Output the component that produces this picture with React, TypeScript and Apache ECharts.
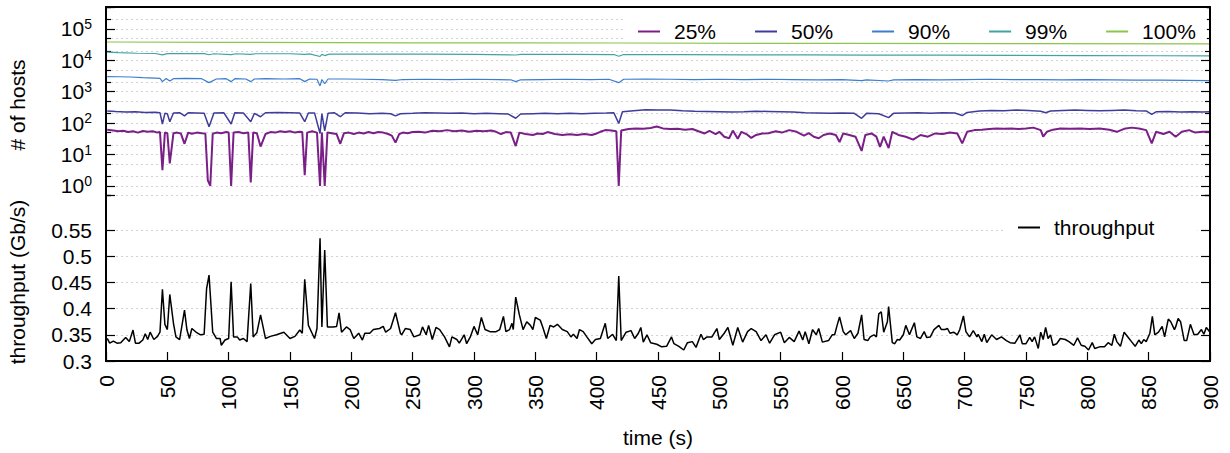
import React, { useEffect, useRef } from "react";
import * as echarts from "echarts";

const FONT = "Liberation Sans, Arial, Helvetica, sans-serif";

const seriesNames = ["25%", "50%", "90%", "99%", "100%"];
const seriesColors = ["#7a1f87", "#3f3c9c", "#3b7dcf", "#41a3a3", "#8ac64a"];
const seriesWidths = [2, 1.5, 1.2, 1.2, 1.2];

const p25: [number, number][] = [
  [1, 62], [6, 58], [10, 55], [14, 57], [18, 52], [22, 55], [26, 50], [30, 56], [34, 53], [38, 55], [42, 50], [44, 52],
  [46, 3.2], [48, 50], [50, 48], [52, 5.2], [55, 48], [58, 50], [61, 47], [64, 22], [67, 50], [70, 46], [74, 50], [78, 48],
  [81, 47], [83, 1.5], [85, 1.0], [87, 46], [90, 50], [94, 48], [98, 52], [100, 50], [102, 1.0], [104, 50], [108, 52],
  [112, 48], [116, 50], [118, 1.3], [120, 50], [123, 48], [126, 18], [130, 45], [134, 52], [138, 50], [142, 55], [146, 52],
  [150, 55], [154, 50], [158, 53], [160, 52], [162, 2.2], [164, 50], [168, 55], [172, 50], [174.5, 1.0], [176, 50],
  [178.3, 1.0], [180.5, 50], [184, 48], [188, 45], [191, 22], [194, 48], [198, 50], [202, 45], [206, 50], [210, 47],
  [214, 52], [218, 48], [222, 52], [226, 50], [230, 45], [233, 40], [236, 24], [239, 45], [242, 50], [246, 48], [250, 52],
  [255, 53], [260, 50], [266, 57], [272, 55], [278, 60], [284, 55], [290, 58], [296, 53], [302, 57], [308, 55], [314, 58],
  [318, 53], [322, 45], [326, 52], [330, 50], [334, 18.6], [337, 50], [342, 45], [348, 42], [352, 47], [356, 45],
  [360, 52], [366, 45], [372, 42], [378, 44], [384, 42], [390, 45], [396, 42], [400, 47], [403, 53], [407, 60], [412, 58],
  [416, 55], [418, 1.0], [420, 58], [426, 65], [432, 68], [438, 66], [444, 70], [449, 78], [454, 68], [460, 65],
  [466, 66], [472, 62], [478, 65], [483, 55], [488, 47], [492, 57], [497, 45], [500, 53], [504, 37], [508, 33],
  [511, 58], [515, 32], [518, 53], [522, 45], [526, 34], [530, 42], [535, 47], [540, 48], [546, 55], [551, 50],
  [557, 60], [563, 53], [569, 40], [573, 48], [577, 37], [581, 33], [585, 42], [590, 47], [595, 42], [598, 25],
  [601, 47], [606, 42], [611, 37], [616, 13], [619, 42], [624, 47], [628, 37], [631, 17.6], [634, 37], [638, 16],
  [641, 53], [646, 42], [652, 37], [658, 30], [664, 42], [670, 37], [676, 47], [682, 45], [688, 50], [694, 47],
  [698, 22.6], [702, 53], [708, 60], [714, 62], [720, 65], [726, 68], [732, 66], [738, 68], [744, 65], [750, 68],
  [756, 72], [762, 60], [764, 37], [767, 53], [772, 62], [778, 68], [786, 66], [794, 68], [802, 65], [810, 68],
  [818, 62], [824, 53], [830, 66], [836, 72], [842, 68], [848, 60], [852.5, 22.6], [856, 53], [862, 45], [867, 53],
  [872, 37], [877, 53], [883, 60], [888, 50], [894, 53], [900, 53]
];

const p50: [number, number][] = [
  [1, 245], [8, 235], [16, 225], [24, 230], [32, 220], [40, 222], [44, 215], [46, 94], [48, 205], [50, 200], [52, 111],
  [55, 210], [60, 215], [64, 170], [67, 215], [74, 210], [80, 205], [84, 77], [88, 210], [96, 215], [102, 94],
  [105, 215], [112, 210], [118, 111], [121, 205], [126, 160], [130, 215], [140, 220], [150, 215], [158, 210],
  [162, 111], [165, 210], [170, 212], [174.5, 47], [176, 200], [178.3, 57], [181, 205], [186, 215], [191, 160],
  [195, 215], [205, 210], [215, 200], [225, 205], [232, 200], [236, 170], [240, 200], [250, 205], [260, 215],
  [270, 212], [280, 205], [290, 210], [300, 200], [310, 205], [320, 200], [328, 195], [334, 143], [338, 195],
  [348, 200], [358, 205], [368, 200], [378, 205], [388, 200], [398, 205], [408, 210], [414, 215], [418, 98],
  [421, 230], [430, 250], [440, 265], [450, 260], [460, 262], [470, 250], [480, 240], [490, 235], [500, 230],
  [510, 225], [520, 230], [530, 240], [540, 235], [550, 230], [560, 225], [570, 215], [580, 210], [590, 205],
  [600, 210], [610, 205], [616, 143], [620, 205], [630, 200], [638, 150], [642, 205], [652, 210], [662, 215],
  [672, 205], [682, 215], [692, 210], [698, 175], [702, 220], [712, 245], [722, 255], [732, 250], [742, 260],
  [752, 255], [762, 240], [766, 215], [770, 245], [780, 255], [790, 260], [800, 255], [810, 250], [820, 255],
  [830, 260], [840, 250], [848, 245], [852.5, 190], [856, 230], [866, 235], [876, 225], [886, 230], [894, 228], [900, 230]
];

const p90: [number, number][] = [
  [1, 3050], [10, 3000], [20, 2950], [30, 2800], [40, 2700], [44, 2650], [46, 2100], [49, 2650], [52, 2200],
  [55, 2600], [65, 2650], [78, 2600], [84, 1950], [90, 2550], [98, 2600], [102, 2100], [105, 2600], [114, 2550],
  [118, 2100], [121, 2550], [130, 2600], [145, 2550], [158, 2600], [162, 2100], [166, 2550], [172, 2500],
  [174.5, 1530], [176, 2450], [178.3, 1800], [181, 2550], [195, 2550], [210, 2500], [225, 2450], [236, 2300],
  [242, 2450], [260, 2500], [280, 2450], [300, 2500], [320, 2450], [330, 2400], [334, 2100], [338, 2400],
  [355, 2450], [375, 2500], [395, 2450], [410, 2500], [418, 1950], [422, 2500], [440, 2550], [460, 2500],
  [480, 2450], [500, 2500], [520, 2450], [540, 2500], [560, 2450], [580, 2400], [600, 2450], [616, 2250],
  [620, 2400], [638, 2200], [642, 2400], [660, 2450], [680, 2400], [700, 2450], [720, 2500], [740, 2450],
  [760, 2450], [780, 2400], [800, 2450], [820, 2400], [840, 2350], [860, 2350], [880, 2300], [900, 2250]
];

const p99: [number, number][] = [
  [1, 18300], [10, 17500], [25, 16800], [40, 16500], [46, 15000], [50, 16300], [80, 16300], [84, 15100],
  [88, 16200], [102, 15300], [106, 16200], [118, 15500], [122, 16200], [150, 16200], [162, 15500], [166, 16000],
  [174.5, 13300], [176, 15500], [178.3, 14200], [182, 15800], [220, 15800], [260, 15700], [300, 15500],
  [334, 14800], [338, 15400], [380, 15500], [414, 15300], [418, 13500], [422, 15300], [470, 15200],
  [520, 15000], [570, 15000], [620, 14700], [680, 14600], [740, 14400], [800, 14200], [860, 14000], [900, 13800]
];

const p100: [number, number][] = [
  [0, 38400], [100, 37500], [250, 36200], [420, 35700], [600, 34500], [750, 34000], [900, 33500]
];

const tpName = "throughput";
const pTp: [number, number][] = [
  [1, .343], [3, .334], [6, .338], [9, .334], [12, .335], [16, .345], [19, .337], [22, .359], [24, .334], [27, .334],
  [30, .340], [32, .352], [34, .341], [36, .355], [39, .341], [42, .347], [44, .355], [46, .437], [48, .370], [50, .360],
  [52, .427], [55, .372], [57, .346], [60, .341], [64, .397], [66, .359], [68, .343], [70, .362], [74, .354], [77, .350],
  [80, .351], [82, .438], [84, .464], [87, .355], [90, .343], [93, .343], [94, .330], [97, .340], [100, .343], [102, .451],
  [104, .346], [107, .346], [109, .340], [112, .343], [115, .337], [118, .448], [120, .346], [123, .354], [126, .388],
  [130, .343], [134, .347], [139, .350], [145, .355], [150, .343], [154, .347], [158, .359], [160, .353], [162, .456],
  [165, .368], [168, .353], [170, .343], [172, .362], [174.5, .534], [176, .365], [178.3, .512], [180.5, .365],
  [185, .365], [188, .366], [190, .392], [192, .355], [196, .365], [199, .360], [202, .343], [206, .353], [209, .340],
  [211, .353], [215, .353], [218, .360], [223, .362], [226, .366], [228, .355], [232, .362], [236, .392], [240, .353],
  [241, .350], [244, .362], [248, .360], [251, .346], [256, .350], [258, .365], [261, .350], [263, .368], [266, .341],
  [269, .364], [272, .360], [276, .346], [280, .327], [282, .346], [286, .341], [288, .334], [292, .350], [294, .333],
  [297, .346], [300, .366], [303, .350], [306, .383], [309, .360], [313, .356], [318, .356], [321, .360], [324, .385],
  [326, .356], [329, .360], [331, .372], [332, .360], [334, .422], [337, .388], [340, .360], [343, .375], [346, .368],
  [348, .360], [350, .383], [354, .378], [356, .365], [359, .343], [362, .368], [365, .365], [368, .370], [372, .360],
  [376, .356], [379, .346], [381, .351], [384, .343], [386, .360], [389, .356], [392, .346], [396, .333], [399, .341],
  [403, .343], [407, .372], [409, .343], [413, .351], [416, .339], [418, .462], [420, .339], [424, .355], [428, .358],
  [431, .343], [434, .353], [436, .364], [438, .336], [441, .350], [444, .335], [449, .332], [453, .327], [457, .328],
  [461, .346], [463, .333], [467, .328], [471, .321], [474, .335], [478, .337], [481, .326], [485, .351], [487, .341],
  [490, .346], [494, .346], [498, .362], [500, .341], [504, .353], [507, .364], [511, .330], [515, .364], [519, .336],
  [523, .356], [526, .362], [530, .356], [534, .339], [538, .350], [541, .334], [545, .350], [550, .355], [553, .335],
  [557, .345], [561, .337], [565, .357], [568, .340], [570, .356], [573, .333], [576, .360], [579, .350], [581, .362],
  [584, .336], [589, .339], [592, .350], [594, .350], [596, .368], [598, .384], [601, .356], [603, .350], [607, .358],
  [610, .343], [613, .353], [616, .388], [618, .341], [621, .339], [623, .346], [626, .350], [628, .346], [630, .390],
  [632, .394], [634, .355], [637, .375], [638, .404], [641, .335], [643, .333], [645, .341], [647, .340], [650, .350],
  [652, .368], [655, .350], [656, .356], [659, .373], [661, .346], [664, .343], [667, .356], [669, .345], [672, .346],
  [675, .360], [679, .368], [681, .360], [684, .360], [686, .362], [688, .353], [691, .355], [694, .350], [696, .360],
  [699, .386], [701, .356], [704, .346], [707, .358], [710, .346], [711, .351], [714, .337], [716, .351], [718, .335],
  [722, .350], [726, .341], [730, .346], [734, .339], [737, .335], [741, .334], [745, .350], [747, .333], [750, .333],
  [753, .345], [755, .337], [757, .346], [760, .324], [762, .355], [764, .341], [766, .364], [768, .343], [770, .350],
  [772, .330], [775, .333], [778, .343], [782, .341], [785, .337], [789, .330], [792, .344], [795, .330], [798, .328],
  [801, .321], [804, .335], [806, .324], [810, .327], [814, .327], [817, .335], [820, .330], [822, .351], [824, .337],
  [827, .328], [830, .355], [834, .343], [836, .337], [839, .328], [842, .340], [844, .333], [846, .341], [848, .337],
  [851, .353], [853, .385], [855, .350], [858, .355], [861, .366], [863, .346], [866, .380], [868, .375], [871, .360],
  [872, .365], [874, .381], [876, .375], [879, .339], [881, .339], [884, .370], [887, .350], [890, .351], [893, .360],
  [895, .351], [897, .364], [900, .355]
];

const hostSeries = [p25, p50, p90, p99, p100];

const X_MIN = 0;
const X_MAX = 900;
const X_INTERVAL = 50;
const HOSTS_MIN = 0.5;
const HOSTS_MAX = 5e5;
const TP_MIN = 0.3;
const TP_MAX = 0.55;
const TP_INTERVAL = 0.05;

const gridLine = { show: true, lineStyle: { color: "#d2d2d2", type: [2, 3] as any, width: 1 } };

function logAxis(pos: "left" | "right", factor: number, major: boolean, showLabel: boolean) {
  return {
    type: "log" as const,
    gridIndex: 0,
    position: pos,
    min: HOSTS_MIN / factor,
    max: HOSTS_MAX / factor,
    logBase: 10,
    axisLine: { show: false, onZero: false },
    axisTick: { show: true, inside: true, length: major ? 9 : 5, lineStyle: { color: "#000", width: 1.2 } },
    splitLine: pos === "left" ? gridLine : { show: false },
    axisLabel: showLabel
      ? {
          show: true,
          margin: 14,
          color: "#000",
          fontFamily: FONT,
          formatter: (v: number) => {
            const e = Math.round(Math.log10(v));
            if (e < 0 || Math.abs(v / Math.pow(10, e) - 1) > 1e-6) return "";
            return `{b|10}{s|${e}}`;
          },
          rich: {
            b: { fontSize: 21, fontFamily: FONT, color: "#000" },
            s: { fontSize: 14, fontFamily: FONT, color: "#000", padding: [0, 0, 10, 0] },
          },
        }
      : { show: false },
  };
}

function tpAxis(pos: "left" | "right", showLabel: boolean) {
  return {
    type: "value" as const,
    gridIndex: 1,
    position: pos,
    min: TP_MIN,
    max: TP_MAX,
    interval: TP_INTERVAL,
    axisLine: { show: false, onZero: false },
    axisTick: { show: true, inside: true, length: 9, lineStyle: { color: "#000", width: 1.2 } },
    splitLine: pos === "left" ? gridLine : { show: false },
    axisLabel: showLabel
      ? { show: true, margin: 14, color: "#000", fontSize: 21, fontFamily: FONT }
      : { show: false },
  };
}

export default function App() {
  const ref = useRef<HTMLDivElement>(null);
  useEffect(() => {
    if (!ref.current) return;
    const chart = echarts.init(ref.current, null, { renderer: "svg" });
    const series: any[] = hostSeries.map((d, i) => ({
      name: seriesNames[i],
      type: "line",
      xAxisIndex: 0,
      yAxisIndex: 0,
      data: d,
      symbol: "none",
      lineStyle: { color: seriesColors[i], width: seriesWidths[i] },
      itemStyle: { color: seriesColors[i] },
      z: 3,
    }));
    series.push({
      name: tpName,
      type: "line",
      xAxisIndex: 1,
      yAxisIndex: 6,
      data: pTp,
      symbol: "none",
      lineStyle: { color: "#000", width: 1.5 },
      itemStyle: { color: "#000" },
      z: 3,
    });
    const legendText = { fontSize: 21, fontFamily: FONT, color: "#000", padding: [0, 0, 0, 9], lineHeight: 20 };
    chart.setOption({
      animation: false,
      backgroundColor: "#fff",
      textStyle: { fontFamily: FONT },
      grid: [
        { left: 106, right: 20, top: 7, height: 188.4 },
        { left: 106, right: 20, top: 230, height: 131 },
      ],
      xAxis: [
        { type: "value", gridIndex: 0, min: X_MIN, max: X_MAX, interval: X_INTERVAL, show: false },
        {
          type: "value",
          gridIndex: 1,
          min: X_MIN,
          max: X_MAX,
          interval: X_INTERVAL,
          position: "bottom",
          name: "time (s)",
          nameLocation: "middle",
          nameGap: 66,
          nameTextStyle: { fontSize: 21, fontFamily: FONT, color: "#000" },
          axisLine: { show: false, onZero: false },
          axisTick: { show: true, inside: true, length: 9, lineStyle: { color: "#000", width: 1.2 } },
          splitLine: { show: false },
          axisLabel: { rotate: 90, margin: 14, fontSize: 21, fontFamily: FONT, color: "#000" },
        },
      ],
      yAxis: [
        logAxis("left", 1, true, true),
        logAxis("right", 1, true, false),
        logAxis("left", 0.5, false, false),
        logAxis("right", 0.5, false, false),
        logAxis("left", 0.2, false, false),
        logAxis("right", 0.2, false, false),
        tpAxis("left", true),
        tpAxis("right", false),
      ],
      legend: [
        {
          data: seriesNames,
          left: 625,
          top: 8,
          orient: "horizontal",
          backgroundColor: "#fff",
          padding: [13, 11, 0, 13],
          icon: "rect",
          itemWidth: 22,
          itemHeight: 2,
          itemGap: 39,
          textStyle: legendText,
          z: 20,
        },
        {
          data: [tpName],
          left: 1003,
          top: 215,
          backgroundColor: "#fff",
          padding: [2, 43, 2, 15],
          icon: "rect",
          itemWidth: 22,
          itemHeight: 2,
          textStyle: legendText,
          z: 20,
        },
      ],
      graphic: [
        {
          type: "rect",
          z: 100,
          silent: true,
          shape: { x: 106, y: 7, width: 1104, height: 354 },
          style: { fill: "none", stroke: "#000", lineWidth: 2 },
        },
        {
          type: "text",
          x: 17,
          y: 105,
          rotation: Math.PI / 2,
          style: { text: "# of hosts", fontSize: 21, fontFamily: FONT, fill: "#000", align: "center", verticalAlign: "middle" },
        },
        {
          type: "text",
          x: 17,
          y: 282,
          rotation: Math.PI / 2,
          style: { text: "throughput (Gb/s)", fontSize: 21, fontFamily: FONT, fill: "#000", align: "center", verticalAlign: "middle" },
        },
      ],
      series,
    });
    return () => chart.dispose();
  }, []);
  return <div ref={ref} style={{ position: "absolute", left: 0, top: 0, width: 1230, height: 453 }} />;
}
